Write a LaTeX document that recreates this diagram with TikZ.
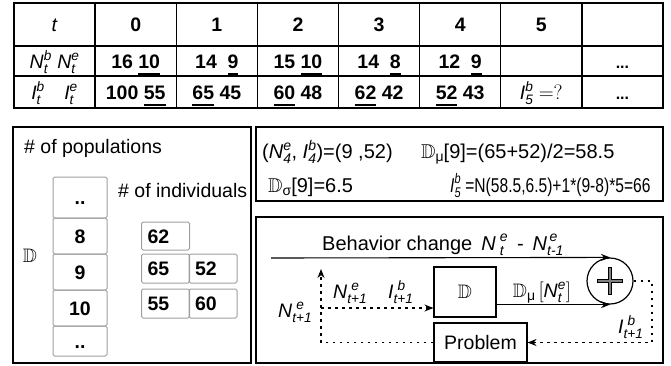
\documentclass[tikz,border=0pt]{standalone}
\usepackage{amsmath,amssymb}
\usepackage{fontspec}
\setmainfont{Liberation Sans}
\usetikzlibrary{arrows.meta,calc}

% underlined number with a heavy bar
\newcommand\ubar[1]{\setbox0\hbox{#1}\rlap{\rule[-6.5pt]{\wd0}{2pt}}\box0\relax}
% italic variable with superscript and subscript
\newcommand\vsym[3]{$\textit{#1}^{\textit{#2}}_{\textit{#3}}$}
\newcommand\Dbb{$\mathbb{D}$}
\newcommand\lowgr[1]{\raisebox{-3pt}{\fontsize{14}{14}\selectfont #1}}
\newcommand\bigtxt{\fontsize{19.5}{23}\selectfont}

\begin{document}
\begin{tikzpicture}[x=1pt,y=-1pt,
  every node/.style={inner sep=0pt, font=\bigtxt},
  tcell/.style={draw, line width=1.3pt, minimum width=81.125pt, text height=14pt, text depth=0pt,
    font=\bfseries\bigtxt},
  tlab/.style={tcell, font=\bigtxt},
  hrow/.style={minimum height=43pt},
  nrow/.style={minimum height=30pt},
  irow/.style={minimum height=32pt},
  panel/.style={draw, line width=1.3pt},
  popcell/.style={draw=gray!75, line width=1pt, rounded corners=1.5pt, minimum width=54pt,
    text height=14pt, text depth=0pt, font=\bfseries\bigtxt},
  indcell/.style={draw=gray!75, line width=1pt, rounded corners=1.5pt, text width=36pt, inner xsep=6pt,
    align=left, text height=14pt, text depth=0pt, font=\bfseries\bigtxt},
  calctxt/.style={anchor=base west, font=\fontsize{20}{24}\selectfont},
  blk/.style={draw, line width=1.1pt},
  flow/.style={line width=1.1pt, -{Stealth[length=9pt,width=7pt]}},
  fback/.style={line width=1.1pt, dash pattern=on 2.5pt off 4.5pt, -{Stealth[length=9pt,width=7pt]}}
]
\useasboundingbox (0,0) rectangle (671,365);

% ---------- time table ----------
% header row
\node[tlab,hrow] (h0) at (54.56,24.5)  {\textit{t}};
\node[tcell,hrow] (h1) at (135.69,24.5) {0};
\node[tcell,hrow] (h2) at (216.81,24.5) {1};
\node[tcell,hrow] (h3) at (297.94,24.5) {2};
\node[tcell,hrow] (h4) at (379.06,24.5) {3};
\node[tcell,hrow] (h5) at (460.19,24.5) {4};
\node[tcell,hrow] (h6) at (541.31,24.5) {5};
\node[tcell,hrow] (h7) at (622.44,24.5) {};
% N row
\node[tlab,nrow] (n0) at (54.56,61)  {\vsym{N}{b}{t}\ \vsym{N}{e}{t}};
\node[tcell,nrow] (n1) at (135.69,61) {16 \ubar{10}};
\node[tcell,nrow] (n2) at (216.81,61) {14\hspace{0.55em}\ubar{9}};
\node[tcell,nrow] (n3) at (297.94,61) {15 \ubar{10}};
\node[tcell,nrow] (n4) at (379.06,61) {14\hspace{0.55em}\ubar{8}};
\node[tcell,nrow] (n5) at (460.19,61) {12\hspace{0.55em}\ubar{9}};
\node[tcell,nrow] (n6) at (541.31,61) {};
\node[tcell,nrow] (n7) at (622.44,61) {\fontsize{16}{18}\selectfont...};
% I row
\node[tlab,irow] (i0) at (54.56,92)  {\vsym{I}{b}{t}\quad\vsym{I}{e}{t}};
\node[tcell,irow] (i1) at (135.69,92) {100 \ubar{55}};
\node[tcell,irow] (i2) at (216.81,92) {\ubar{65} 45};
\node[tcell,irow] (i3) at (297.94,92) {\ubar{60} 48};
\node[tcell,irow] (i4) at (379.06,92) {\ubar{62} 42};
\node[tcell,irow] (i5) at (460.19,92) {\ubar{52} 43};
\node[tlab,irow] (i6) at (541.31,92) {\vsym{I}{b}{5}\ $=?$};
\node[tcell,irow] (i7) at (622.44,92) {\fontsize{16}{18}\selectfont...};

% ---------- population panel ----------
\node[panel, minimum width=238pt, minimum height=236pt] (poppanel) at (132,245) {};
\node[anchor=base west] (poptitle) at (24,153) {\# of populations};
\node[anchor=base west] (indtitle) at (118,197) {\# of individuals};
\node (dsym) at (30,256) {\Dbb};

\node[popcell, minimum height=41pt] (p0) at (80,197.5) {..};
\node[popcell, minimum height=36pt] (p1) at (80,236) {8};
\node[popcell, minimum height=36pt] (p2) at (80,272) {9};
\node[popcell, minimum height=36pt] (p3) at (80,308) {10};
\node[popcell, minimum height=30pt] (p4) at (80,341) {..};

\node[indcell, minimum height=28pt] (v62) at (165.5,236) {62};
\node[indcell, minimum height=29pt] (v65) at (165.5,268.5) {65};
\node[indcell, minimum height=29pt] (v52) at (213,268.5) {52};
\node[indcell, minimum height=29pt] (v55) at (165.5,303.5) {55};
\node[indcell, minimum height=29pt] (v60) at (213,303.5) {60};

% ---------- sampling panel ----------
\node[panel, minimum width=407pt, minimum height=74pt] (calcpanel) at (459.5,164) {};
\node[calctxt] (pair) at (262,158.5) {(\vsym{N}{e}{4}, \vsym{I}{b}{4})=(9 ,52)};
\node[calctxt] (mean) at (421,158.5) {\Dbb\lowgr{μ}[9]=(65+52)/2=58.5};
\node[calctxt] (sdev) at (268,192) {\Dbb\lowgr{σ}[9]=6.5};
\node[calctxt] (draw5) at (450,192)
  {\scalebox{0.78}[1]{\vsym{I}{b}{5} =N(58.5,6.5)+1*(9-8)*5=66}};

% ---------- feedback loop panel ----------
\node[panel, minimum width=407pt, minimum height=146pt] (looppanel) at (459.5,290) {};
\node[anchor=base west, font=\fontsize{20}{24}\selectfont] (behav) at (322,250)
  {Behavior change\hspace{0.45em}$\textit{N}^{\;\textit{e}}_{\;\textit{t}}$\hspace{0.45em}-\hspace{0.45em}$\textit{N}^{\,\textit{e}}_{\textit{t-1}}$};

\node[circle, draw, line width=1.2pt, minimum size=46pt] (sum) at (610,281) {};
\draw[line width=4pt] ($(sum.center)+(-13,0)$) -- ($(sum.center)+(13,0)$);
\draw[line width=4pt] ($(sum.center)+(0,-14)$) -- ($(sum.center)+(0,14)$);
\draw[gray, line width=1.4pt] ($(sum.center)+(-11.8,0)$) -- ($(sum.center)+(11.8,0)$);
\draw[gray, line width=1.4pt] ($(sum.center)+(0,-12.8)$) -- ($(sum.center)+(0,12.8)$);

\node[blk, minimum width=62pt, minimum height=50pt] (dbox) at (465,292) {\Dbb};
\node[blk, minimum width=93pt, minimum height=39pt] (prob) at (480.5,342.5) {Problem};

\coordinate (topstart) at (271,258);
\coordinate (rturn) at (652,281);
\coordinate (lup) at (321,269);
\coordinate (lsplit) at (321,308);

\draw[flow] (topstart) -- (sum.north);
\draw[flow] (dbox.east |- sum.south) -- (sum.south);
\draw[fback] (sum.east) -- (rturn) |- (prob.east);
\draw[fback] (prob.west) -| (lup);
\draw[fback] (lsplit) -- (lsplit -| dbox.west);

\node[anchor=base] (dmu) at (542,297)
  {\Dbb\lowgr{μ}$\,[\textit{N}^{\textit{e}}_{\textit{t}}]$};
\node[anchor=base west] (nleft) at (278,317) {$\textit{N}^{\;\textit{e}}_{\textit{t+1}}$};
\node[anchor=base west] (nmid) at (333,298) {$\textit{N}^{\;\textit{e}}_{\textit{t+1}}$};
\node[anchor=base west] (imid) at (388,298) {$\textit{I}^{\;\textit{b}}_{\textit{t+1}}$};
\node[anchor=base west] (iright) at (618,333) {$\textit{I}^{\;\textit{b}}_{\textit{t+1}}$};
\end{tikzpicture}
\end{document}
